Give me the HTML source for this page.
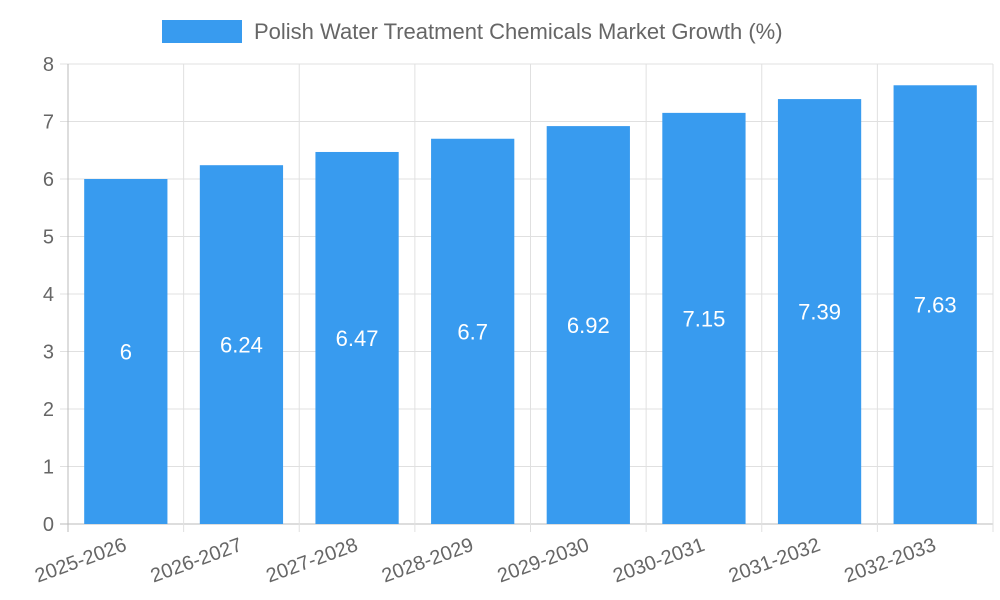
<!DOCTYPE html>
<html><head><meta charset="utf-8"><style>
body{margin:0;background:#fff;}
svg{display:block;font-family:"Liberation Sans",sans-serif;}
</style></head><body>
<svg id="chart" width="1000" height="600">
<g>
<rect x="162" y="20" width="80" height="23" fill="#389BEF"/>
<text x="254" y="39" font-size="22" fill="#666">Polish Water Treatment Chemicals Market Growth (%)</text>
</g>
<g id="grid"></g>
<g id="bars"></g>
<g id="axes"></g>
</svg>
<script>
const categories=["2025-2026","2026-2027","2027-2028","2028-2029","2029-2030","2030-2031","2031-2032","2032-2033"];
const values=[6,6.24,6.47,6.7,6.92,7.15,7.39,7.63];
const yTicks=[0,1,2,3,4,5,6,7,8];
const NS="http://www.w3.org/2000/svg";
const X0=68,X1=993,Y0=524,Y1=64,YMAX=8;
const bw=(X1-X0)/categories.length;
const y=v=>Y0-(v/YMAX)*(Y0-Y1);
const xc=i=>X0+bw*(i+0.5);
function mk(p,t,a){const e=document.createElementNS(NS,t);for(const k in a)e.setAttribute(k,a[k]);p.appendChild(e);return e;}
const grid=document.getElementById('grid'),bars=document.getElementById('bars'),axes=document.getElementById('axes');
yTicks.forEach(t=>{
 const l=mk(grid,'line',{x1:X0-8,x2:X1,y1:y(t),y2:y(t),stroke:t===0?'#bbb':'#e0e0e0','stroke-width':1});
 
 
 const tx=mk(axes,'text',{x:X0-14,y:y(t)+7,'text-anchor':'end','font-size':20,fill:'#666'});
 tx.textContent=t;
 
 
});
for(let i=0;i<=categories.length;i++){
 const x=X0+bw*i;
 const l=mk(grid,'line',{x1:x,x2:x,y1:Y1,y2:Y0+8,stroke:i===0?'#bbb':'#e0e0e0','stroke-width':1});
 
 
}
categories.forEach((c,i)=>{
 const w=bw*0.72,v=values[i];
 const r=mk(bars,'rect',{x:xc(i)-w/2,y:y(v),width:w,height:Y0-y(v),fill:'#389BEF'});
 
 
 const vt=mk(bars,'text',{x:xc(i),y:(y(v)+Y0)/2+8,'text-anchor':'middle','font-size':22,fill:'#fff'});
 vt.textContent=v;
 
 
 const xt=mk(axes,'text',{x:xc(i)+2,y:Y0+26,'text-anchor':'end','font-size':20,fill:'#666',transform:`rotate(-20 ${xc(i)+2} ${Y0+26})`});
 xt.textContent=c;
 
 
});
</script>
</body></html>
